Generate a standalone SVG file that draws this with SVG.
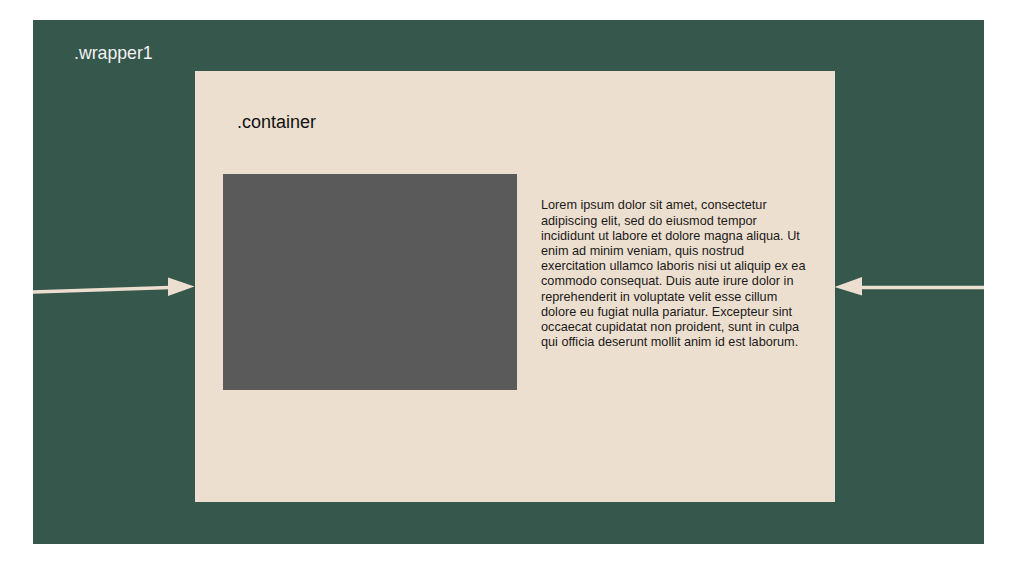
<svg xmlns="http://www.w3.org/2000/svg" width="1024" height="571" viewBox="0 0 1024 571">
<style>
.lbl{font-family:"Liberation Sans",Arial,sans-serif;}
.body{font-family:"Liberation Sans",Arial,sans-serif;font-size:12.7px;fill:#1a1a1a;}
.conn{stroke:#EDDFD0;stroke-width:3.5;fill:none;}
.head{fill:#EDDFD0;}
</style>
<rect width="1024" height="571" fill="#ffffff"/>
<g id="wrapper1">
<rect x="33" y="20" width="951" height="524" fill="#36574C"/>
<text class="lbl" x="74" y="59" font-size="17.7" fill="#F2F2F2">.wrapper1</text>
</g>
<g id="container">
<rect x="195" y="71" width="640" height="431" fill="#EDDFD0"/>
<text class="lbl" x="237" y="127.5" font-size="18" fill="#111111">.container</text>
</g>
<g id="image">
<rect x="223" y="174" width="294" height="216" fill="#5A5A5A"/>
</g>
<g id="text">
<text class="body" x="541" y="209.3">
<tspan x="541" y="209.3">Lorem ipsum dolor sit amet, consectetur</tspan>
<tspan x="541" y="224.5">adipiscing elit, sed do eiusmod tempor</tspan>
<tspan x="541" y="239.7">incididunt ut labore et dolore magna aliqua. Ut</tspan>
<tspan x="541" y="254.9">enim ad minim veniam, quis nostrud</tspan>
<tspan x="541" y="270.1">exercitation ullamco laboris nisi ut aliquip ex ea</tspan>
<tspan x="541" y="285.3">commodo consequat. Duis aute irure dolor in</tspan>
<tspan x="541" y="300.5">reprehenderit in voluptate velit esse cillum</tspan>
<tspan x="541" y="315.7">dolore eu fugiat nulla pariatur. Excepteur sint</tspan>
<tspan x="541" y="330.9">occaecat cupidatat non proident, sunt in culpa</tspan>
<tspan x="541" y="346.1">qui officia deserunt mollit anim id est laborum.</tspan>
</text>
</g>
<g id="connectors">
<line class="conn" x1="33" y1="292" x2="170" y2="287.5"/>
<polygon class="head" points="168,277.5 194.5,286.5 168,296"/>
<line class="conn" x1="984" y1="287.5" x2="860" y2="287.5"/>
<polygon class="head" points="862,277 834.5,287 862,295.5"/>
</g>
</svg>
